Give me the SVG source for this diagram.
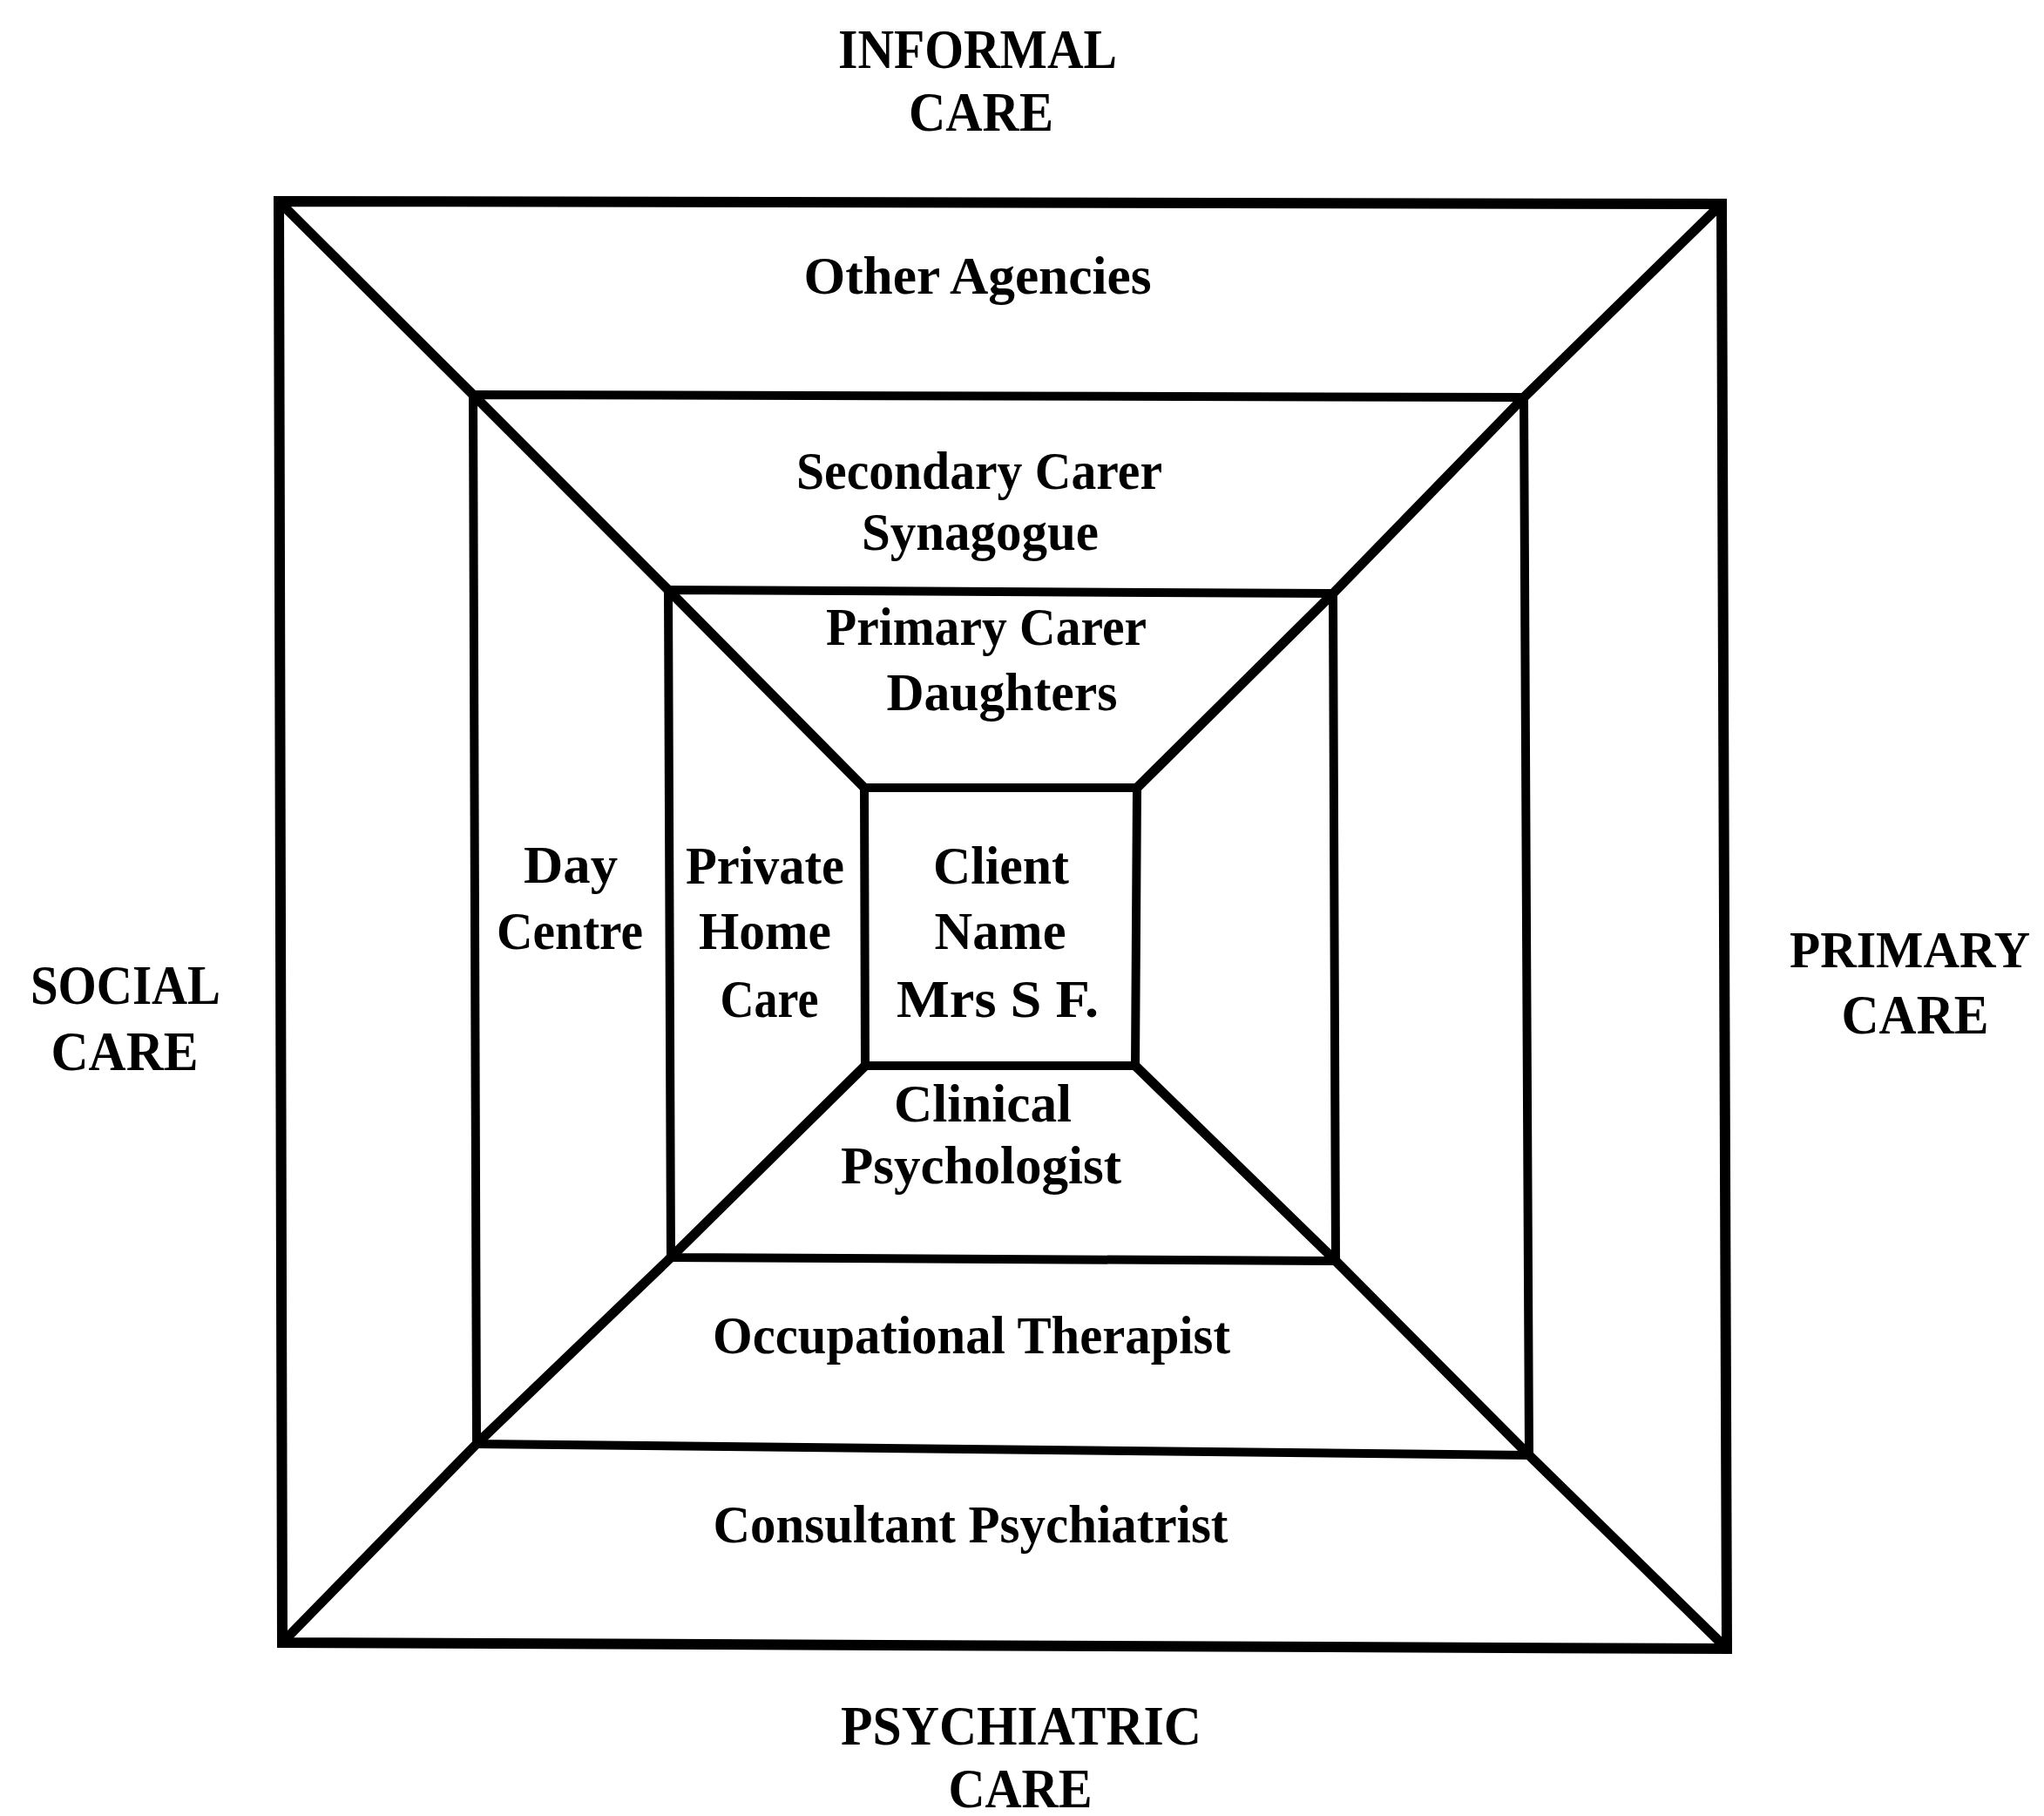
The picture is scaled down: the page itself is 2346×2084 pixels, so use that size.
<svg xmlns="http://www.w3.org/2000/svg" width="2346" height="2084" viewBox="0 0 2346 2084">
  <style>
    .frame { fill: none; stroke: #000; stroke-linejoin: miter; stroke-linecap: square; }
    .outer { stroke-width: 12; }
    .inner { stroke-width: 10; }
    .diag { fill: none; stroke: #000; stroke-width: 11; stroke-linecap: round; stroke-linejoin: round; }
    text { font-family: "Liberation Serif", "Times New Roman", serif; font-weight: bold; font-size: 62px; fill: #000; text-anchor: middle; }
    .cap { font-size: 64px; }
    .cap-edge { font-size: 60px; }
  </style>
  <rect width="2346" height="2084" fill="#fff"/>

  <!-- concentric care rings and the corner diagonals joining them -->
  <g id="connectors">
    <polygon id="ring-outer" class="frame outer" points="320,231 1976,234 1982,1892 324,1885"/>
    <polygon id="ring-2" class="frame inner" points="543,453 1749,456 1755,1670 547,1657"/>
    <polygon id="ring-3" class="frame inner" points="767,677 1530,681 1533,1447 770,1443"/>
    <polygon id="ring-client" class="frame inner" points="992,904 1305,904 1303,1223 993,1223"/>
    <polyline class="diag" points="320,231 543,453 767,677 992,904"/>
    <polyline class="diag" points="1976,234 1749,456 1530,681 1305,904"/>
    <polyline class="diag" points="1982,1892 1755,1670 1533,1447 1303,1223"/>
    <polyline class="diag" points="324,1885 547,1657 770,1443 993,1223"/>
  </g>

  <!-- sector headings outside the frame -->
  <g id="informal-care">
    <text class="cap" x="1122" y="78" textLength="320" lengthAdjust="spacingAndGlyphs">INFORMAL</text>
    <text class="cap" x="1126" y="150" textLength="166" lengthAdjust="spacingAndGlyphs">CARE</text>
  </g>
  <g id="social-care">
    <text class="cap" x="144" y="1152" textLength="218" lengthAdjust="spacingAndGlyphs">SOCIAL</text>
    <text class="cap" x="143" y="1228" textLength="169" lengthAdjust="spacingAndGlyphs">CARE</text>
  </g>
  <g id="primary-care">
    <text class="cap-edge" x="2192" y="1110" textLength="276" lengthAdjust="spacingAndGlyphs">PRIMARY</text>
    <text class="cap" x="2198" y="1186" textLength="169" lengthAdjust="spacingAndGlyphs">CARE</text>
  </g>
  <g id="psychiatric-care">
    <text class="cap" x="1172" y="2002" textLength="414" lengthAdjust="spacingAndGlyphs">PSYCHIATRIC</text>
    <text class="cap" x="1171" y="2074" textLength="165" lengthAdjust="spacingAndGlyphs">CARE</text>
  </g>

  <!-- ring labels -->
  <g id="other-agencies">
    <text x="1122" y="337" textLength="399" lengthAdjust="spacingAndGlyphs">Other Agencies</text>
  </g>
  <g id="secondary-carer">
    <text x="1124" y="561" textLength="420" lengthAdjust="spacingAndGlyphs">Secondary Carer</text>
    <text x="1125" y="631" textLength="272" lengthAdjust="spacingAndGlyphs">Synagogue</text>
  </g>
  <g id="primary-carer">
    <text x="1132" y="740" textLength="368" lengthAdjust="spacingAndGlyphs">Primary Carer</text>
    <text x="1150" y="815" textLength="265" lengthAdjust="spacingAndGlyphs">Daughters</text>
  </g>
  <g id="day-centre">
    <text x="655" y="1013" textLength="108" lengthAdjust="spacingAndGlyphs">Day</text>
    <text x="654" y="1089" textLength="168" lengthAdjust="spacingAndGlyphs">Centre</text>
  </g>
  <g id="private-home-care">
    <text x="878" y="1014" textLength="182" lengthAdjust="spacingAndGlyphs">Private</text>
    <text x="878" y="1089" textLength="152" lengthAdjust="spacingAndGlyphs">Home</text>
    <text x="883" y="1167" textLength="113" lengthAdjust="spacingAndGlyphs">Care</text>
  </g>
  <g id="client">
    <text x="1149" y="1014" textLength="156" lengthAdjust="spacingAndGlyphs">Client</text>
    <text x="1148" y="1089" textLength="151" lengthAdjust="spacingAndGlyphs">Name</text>
    <text x="1145" y="1167" textLength="232" lengthAdjust="spacingAndGlyphs">Mrs S F.</text>
  </g>
  <g id="clinical-psychologist">
    <text x="1128" y="1287" textLength="204" lengthAdjust="spacingAndGlyphs">Clinical</text>
    <text x="1126" y="1358" textLength="322" lengthAdjust="spacingAndGlyphs">Psychologist</text>
  </g>
  <g id="occupational-therapist">
    <text x="1115" y="1553" textLength="594" lengthAdjust="spacingAndGlyphs">Occupational Therapist</text>
  </g>
  <g id="consultant-psychiatrist">
    <text x="1114" y="1770" textLength="591" lengthAdjust="spacingAndGlyphs">Consultant Psychiatrist</text>
  </g>
</svg>
